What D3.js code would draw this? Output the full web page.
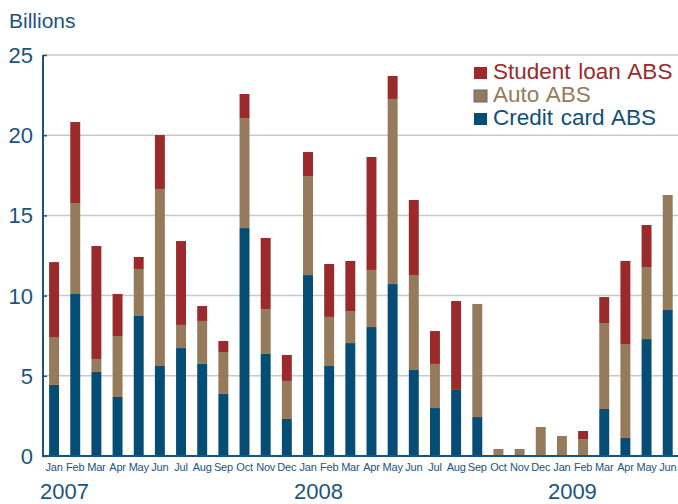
<!DOCTYPE html>
<html><head><meta charset="utf-8">
<script src="https://cdn.jsdelivr.net/npm/d3@7"></script>
<style>html,body{margin:0;padding:0;background:#fff;}svg{display:block;font-family:"Liberation Sans",Arial,sans-serif;}</style>
</head><body><svg id="c" width="678" height="504"></svg>
<script>
const months = ["Jan","Feb","Mar","Apr","May","Jun","Jul","Aug","Sep","Oct","Nov","Dec",
  "Jan","Feb","Mar","Apr","May","Jun","Jul","Aug","Sep","Oct","Nov","Dec",
  "Jan","Feb","Mar","Apr","May","Jun"];
const years = ["2007","2008","2009"];
const creditCard = [4.43,10.1,5.24,3.68,8.73,5.61,6.73,5.74,3.87,14.21,6.36,2.31,
  11.28,5.61,7.04,8.04,10.72,5.36,2.99,4.12,2.43,0,0,0,
  0,0,2.93,1.12,7.29,9.1];
const auto = [2.99,5.67,0.81,3.8,2.93,11.04,1.44,2.68,2.61,6.86,2.8,2.37,
  6.17,3.06,2.0,3.56,11.54,5.92,2.75,0,7.05,0.44,0.44,1.81,
  1.25,1.06,5.36,5.86,4.49,7.17];
const studentLoan = [4.67,5.05,7.04,2.62,0.75,3.36,5.23,0.93,0.69,1.5,4.43,1.62,
  1.5,3.3,3.12,7.04,1.43,4.68,2.05,5.54,0,0,0,0,
  0,0.5,1.62,5.18,2.62,0];
const yTicks = [0,5,10,15,20,25];
const seriesNames = ["Credit card ABS","Auto ABS","Student loan ABS"];
const colors = {"Credit card ABS":"#064d76","Auto ABS":"#957a5c","Student loan ABS":"#9a2a2b"};

const svg = d3.select("#c");
const idx = d3.range(months.length);
const rows = idx.map(i => ({i, "Credit card ABS":creditCard[i], "Auto ABS":auto[i], "Student loan ABS":studentLoan[i]}));
const x = d3.scaleBand().domain(idx).range([43.5,678.3]).paddingInner(0.53).paddingOuter(0.265);
const y = d3.scaleLinear().domain([0,25]).range([456,55]);
const blue = "#1a5580";

// grid
svg.append("g").selectAll("line").data(yTicks.filter(d=>d>0)).join("line")
  .attr("x1",43).attr("x2",678).attr("y1",d=>y(d)).attr("y2",d=>y(d))
  .attr("stroke","#c9c9c9").attr("stroke-width",1.5);

// bars
const stack = d3.stack().keys(seriesNames)(rows);
svg.append("g").selectAll("g").data(stack).join("g")
  .attr("fill",s=>colors[s.key])
  .selectAll("rect").data(s=>s).join("rect")
  .attr("x",d=>x(d.data.i)).attr("width",x.bandwidth())
  .attr("y",d=>y(d[1])).attr("height",d=>y(d[0])-y(d[1]));

// y axis
const ya = svg.append("g").attr("transform","translate(43,0)")
  .call(d3.axisRight(y).tickValues(yTicks).tickSize(4).tickFormat(""));
ya.select(".domain").remove();
ya.selectAll("line").attr("stroke",blue).attr("stroke-width",1.5);
svg.append("line").attr("x1",43).attr("x2",43).attr("y1",y(25)).attr("y2",y(0)+1)
  .attr("stroke",blue).attr("stroke-width",2);
svg.append("g").selectAll("text").data(yTicks).join("text")
  .attr("x",33).attr("y",d=>y(d)).attr("dy","0.36em").attr("text-anchor","end")
  .attr("fill",blue).attr("font-size",22).text(d=>d);

// x axis
svg.append("line").attr("x1",42).attr("x2",678).attr("y1",y(0)).attr("y2",y(0))
  .attr("stroke",blue).attr("stroke-width",2);
const xa = svg.append("g").attr("transform",`translate(0,${y(0)})`)
  .call(d3.axisBottom(x).tickSize(0).tickFormat(i=>months[i]));
xa.select(".domain").remove();
xa.selectAll("text").attr("y",15).attr("dy",0).attr("fill",blue)
  .attr("font-size",11).attr("font-family","'Liberation Sans',Arial,sans-serif")
  .attr("letter-spacing","-0.2px");

// years
svg.append("g").selectAll("text").data(years).join("text")
  .attr("x",(d,k)=>x(k*12)+x.bandwidth()/2-14).attr("y",499)
  .attr("fill",blue).attr("font-size",22).text(d=>d);

// title
svg.append("text").attr("x",9).attr("y",28).attr("fill",blue).attr("font-size",21).text("Billions");

// legend
const legendItems = ["Student loan ABS","Auto ABS","Credit card ABS"];
const lg = svg.append("g").selectAll("g").data(legendItems).join("g")
  .attr("transform",(d,k)=>`translate(474,${67+k*23})`);
lg.append("rect").attr("width",13).attr("height",12).attr("fill",d=>colors[d])
  .attr("stroke",d=>d==="Auto ABS"?"#5d6b78":"none").attr("stroke-width",1);
lg.append("text").attr("x",19).attr("y",11.5).attr("font-size",22.5).attr("word-spacing","1.5px")
  .attr("fill",d=>d==="Credit card ABS"?"#0d4f7c":colors[d]).text(d=>d);
</script></body></html>
